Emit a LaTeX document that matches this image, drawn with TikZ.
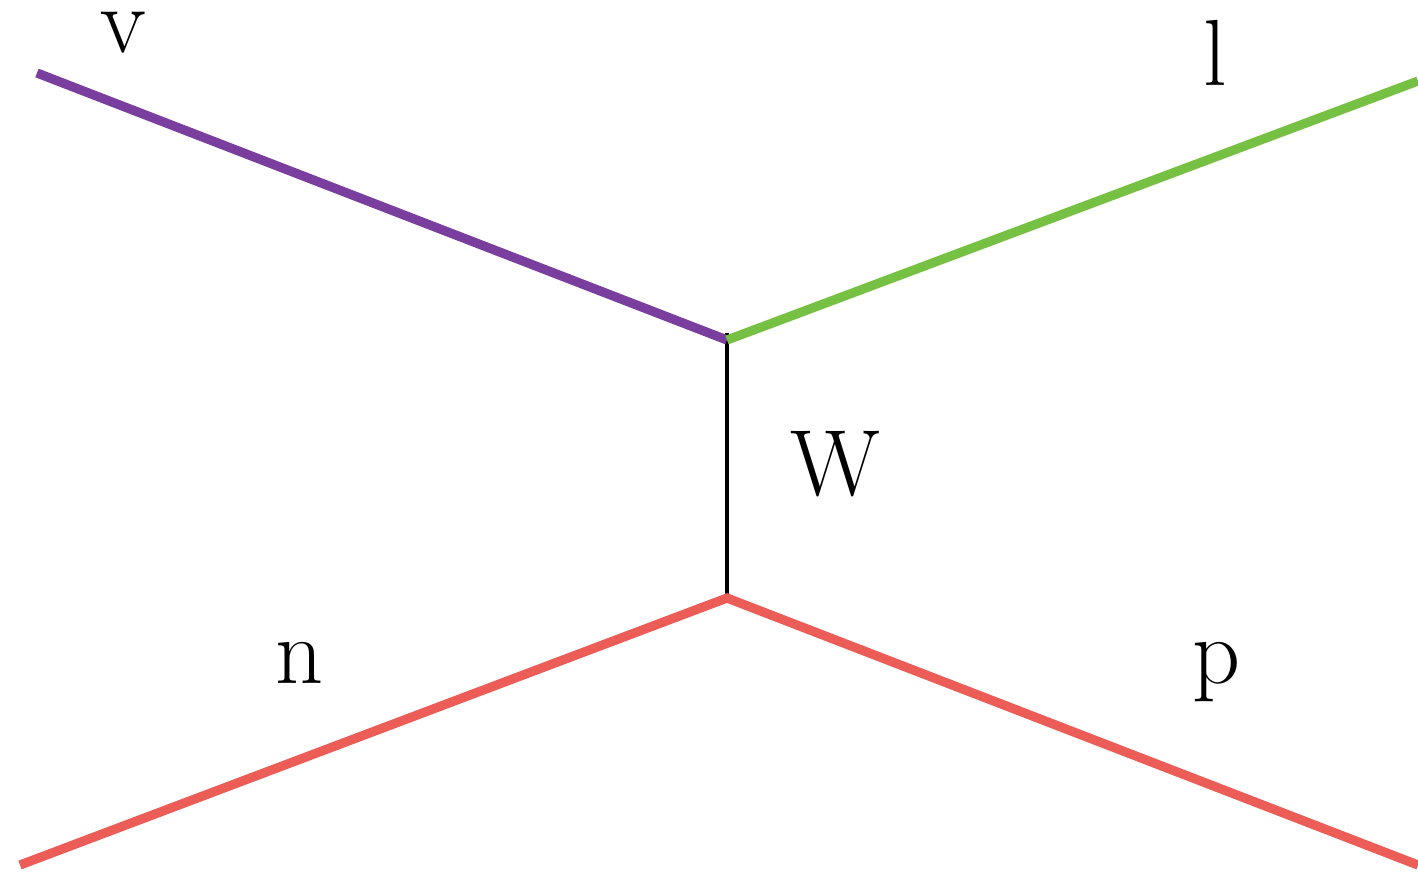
\documentclass[tikz,border=0pt]{standalone}
\usepackage{fontspec}
\definecolor{nuPurple}{HTML}{7A3E9E}
\definecolor{lepGreen}{HTML}{76C043}
\definecolor{nucRed}{HTML}{EC5D57}
\tikzset{
  fermion/.style={line width=4.6pt},
  boson/.style={line width=2.4pt, black},
  lbl/.style={anchor=base, inner sep=0pt, font=\fontsize{47}{56}\selectfont}
}
\begin{document}
\begin{tikzpicture}[x=0.5pt, y=-0.5pt]
  \useasboundingbox (0,0) rectangle (1418,875);
  % vertices and external ends
  \coordinate (top) at (727,340);
  \coordinate (bot) at (727,598);
  \coordinate (wtop) at (727,333);
  \coordinate (nuIn) at (37,73);
  \coordinate (lOut) at (1418,81);
  \coordinate (nIn) at (20,865);
  \coordinate (pOut) at (1418,865);
  % W propagator
  \draw[boson] (wtop) -- (bot);
  % particle lines
  \draw[fermion, nuPurple] (nuIn) -- (top);
  \draw[fermion, lepGreen] (top) -- (lOut);
  \draw[fermion, nucRed] (nIn) -- (bot) -- (pOut);
  % labels
  \node[lbl] (lv) at (123,52) {v};
  \node[lbl] (ll) at (1215,85) {l};
  \node[lbl] (lw) at (835,495) {W};
  \node[lbl] (ln) at (300,683) {n};
  \node[lbl] (lp) at (1216,683) {p};
\end{tikzpicture}
\end{document}
